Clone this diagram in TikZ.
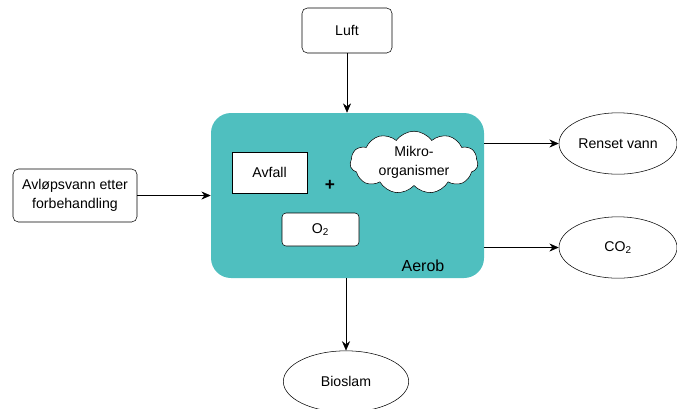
\documentclass[tikz,border=0pt]{standalone}
\usepackage{fontspec}
\setmainfont{Liberation Sans}
\usetikzlibrary{shapes.geometric,shapes.symbols,arrows.meta}
\definecolor{aerobteal}{RGB}{79,191,191}
\tikzset{
  boks/.style={draw,rounded corners=4pt,fill=white,align=center,inner sep=1pt},
  ellipseboks/.style={draw,ellipse,fill=white,minimum width=88.5pt,minimum height=46pt,inner sep=0pt},
  pil/.style={-{Stealth[length=7pt,width=6pt]}}
}
\begin{document}
\begin{tikzpicture}[x=0.75pt,y=-0.75pt,font=\fontsize{10.6}{14}\selectfont]
    \useasboundingbox (0,0) rectangle (677,408);

    % Reaktor
    \node[fill=aerobteal,rounded corners=15pt,minimum width=204.75pt,minimum height=123.75pt] (aerob) at (347.5,195.5) {};
    \node at (423,266) {\fontsize{12}{14}\selectfont Aerob};

    % Innhold
    \node[draw,fill=white,minimum width=56pt,minimum height=30.5pt] (avfall) at (269.5,172.5) {Avfall};
    \node at (330,185) {\fontsize{13}{14}\selectfont\textbf{+}};
    \node[draw,cloud,cloud puffs=11,cloud puff arc=110,aspect=2,fill=white,minimum width=96pt,minimum height=46pt,inner sep=0pt,align=center] (mikro) at (414,162.5) {Mikro-\\organismer};
    \node[boks,rounded corners=3pt,minimum width=57.75pt,minimum height=24.75pt] (o2) at (320.5,229.5) {O\textsubscript{2}};

    % Inn
    \node[boks,minimum width=67.5pt,minimum height=33.75pt] (luft) at (347,30.5) {Luft};
    \node[boks,minimum width=93pt,minimum height=39.75pt] (avlop) at (75,195.5) {Avløpsvann etter\\forbehandling};

    % Ut
    \node[ellipseboks] (renset) at (618,143.5) {Renset vann};
    \node[ellipseboks] (co2) at (618,247.5) {CO\textsubscript{2}};
    \node[ellipseboks,minimum width=94pt] (bioslam) at (346,381.5) {Bioslam};

    % Piler
    \draw[pil] (luft) -- (luft |- aerob.north);
    \draw[pil] (avlop) -- (aerob);
    \draw[pil] (aerob.east |- renset) -- (renset);
    \draw[pil] (aerob.east |- co2) -- (co2);
    \draw[pil] (bioslam |- aerob.south) -- (bioslam);
\end{tikzpicture}
\end{document}
